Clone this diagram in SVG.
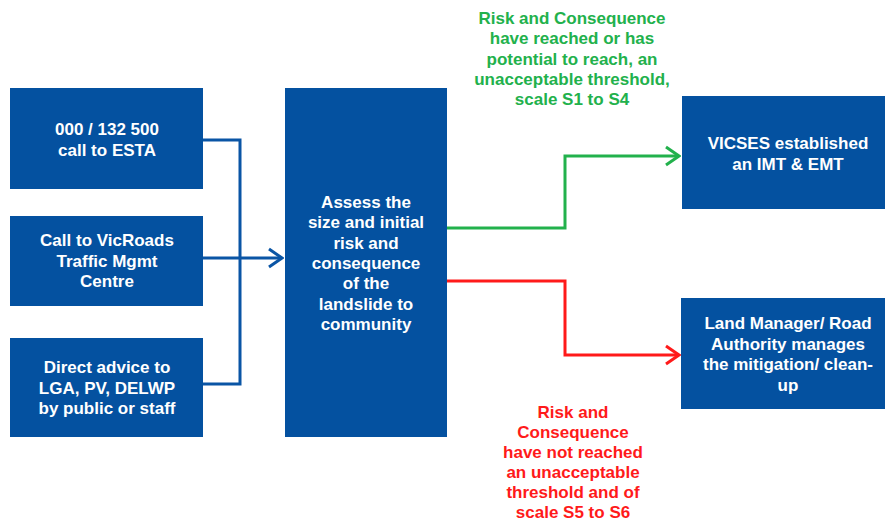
<svg xmlns="http://www.w3.org/2000/svg" width="885" height="526" viewBox="0 0 885 526">
  <style>
    .box { fill: #0451A0; }
    .lbl { font-family: "Liberation Sans", Arial, sans-serif; font-weight: bold; font-size: 17px; text-anchor: middle; }
    .w { fill: #ffffff; }
    .g { fill: #22B14C; }
    .r { fill: #FF1A1A; }
    .line { fill: none; stroke-width: 3; stroke-linejoin: miter; }
  </style>
  <defs>
    <marker id="arrBlue" viewBox="-16 -11 18 22" refX="0" refY="0" markerWidth="18" markerHeight="22" markerUnits="userSpaceOnUse" orient="auto">
      <path d="M-13,-9 L0,0 L-13,9" fill="none" stroke="#0A55A5" stroke-width="3"/>
    </marker>
    <marker id="arrGreen" viewBox="-16 -11 18 22" refX="0" refY="0" markerWidth="18" markerHeight="22" markerUnits="userSpaceOnUse" orient="auto">
      <path d="M-13,-9 L0,0 L-13,9" fill="none" stroke="#22B14C" stroke-width="3"/>
    </marker>
    <marker id="arrRed" viewBox="-16 -11 18 22" refX="0" refY="0" markerWidth="18" markerHeight="22" markerUnits="userSpaceOnUse" orient="auto">
      <path d="M-13,-9 L0,0 L-13,9" fill="none" stroke="#FF1A1A" stroke-width="3"/>
    </marker>
  </defs>

  <rect width="885" height="526" fill="#ffffff"/>

  <!-- connectors -->
  <g id="connectors">
    <path class="line" stroke="#0A55A5" d="M203,140 H240 V384 H203"/>
    <path class="line" stroke="#0A55A5" d="M203,258 H282" marker-end="url(#arrBlue)"/>
    <path class="line" stroke="#22B14C" d="M447,228 H565 V156 H679" marker-end="url(#arrGreen)"/>
    <path class="line" stroke="#FF1A1A" d="M447,281 H565 V355 H679" marker-end="url(#arrRed)"/>
  </g>

  <!-- source nodes -->
  <g id="node-esta">
    <rect class="box" x="10" y="88" width="193" height="101"/>
    <text class="lbl w" x="107" y="135">000 / 132 500</text>
    <text class="lbl w" x="107" y="156">call to ESTA</text>
  </g>
  <g id="node-vicroads">
    <rect class="box" x="10" y="216" width="193" height="90"/>
    <text class="lbl w" x="107" y="246">Call to VicRoads</text>
    <text class="lbl w" x="107" y="266.5">Traffic Mgmt</text>
    <text class="lbl w" x="107" y="287">Centre</text>
  </g>
  <g id="node-direct">
    <rect class="box" x="10" y="338" width="193" height="99"/>
    <text class="lbl w" x="107" y="373">Direct advice to</text>
    <text class="lbl w" x="107" y="393.5">LGA, PV, DELWP</text>
    <text class="lbl w" x="107" y="414">by public or staff</text>
  </g>

  <!-- assessment node -->
  <g id="node-assess">
    <rect class="box" x="285" y="88" width="162" height="349"/>
    <text class="lbl w" x="366" y="208">Assess the</text>
    <text class="lbl w" x="366" y="228.3">size and initial</text>
    <text class="lbl w" x="366" y="248.6">risk and</text>
    <text class="lbl w" x="366" y="268.9">consequence</text>
    <text class="lbl w" x="366" y="289.2">of the</text>
    <text class="lbl w" x="366" y="309.5">landslide to</text>
    <text class="lbl w" x="366" y="329.8">community</text>
  </g>

  <!-- outcome nodes -->
  <g id="node-vicses">
    <rect class="box" x="682" y="96" width="203" height="113"/>
    <text class="lbl w" x="788" y="149">VICSES established</text>
    <text class="lbl w" x="788" y="169.5">an IMT &amp; EMT</text>
  </g>
  <g id="node-landmanager">
    <rect class="box" x="681" y="298" width="204" height="111"/>
    <text class="lbl w" x="788" y="329">Land Manager/ Road</text>
    <text class="lbl w" x="788" y="349.5">Authority manages</text>
    <text class="lbl w" x="788" y="370">the mitigation/ clean-</text>
    <text class="lbl w" x="788" y="390.5">up</text>
  </g>

  <!-- branch labels -->
  <g id="label-escalate">
    <text class="lbl g" x="572" y="24">Risk and Consequence</text>
    <text class="lbl g" x="572" y="44.3">have reached or has</text>
    <text class="lbl g" x="572" y="64.6">potential to reach, an</text>
    <text class="lbl g" x="572" y="84.9">unacceptable threshold,</text>
    <text class="lbl g" x="572" y="105.2">scale S1 to S4</text>
  </g>
  <g id="label-local">
    <text class="lbl r" x="573" y="418">Risk and</text>
    <text class="lbl r" x="573" y="438">Consequence</text>
    <text class="lbl r" x="573" y="458">have not reached</text>
    <text class="lbl r" x="573" y="478">an unacceptable</text>
    <text class="lbl r" x="573" y="498">threshold and of</text>
    <text class="lbl r" x="573" y="518">scale S5 to S6</text>
  </g>
</svg>
